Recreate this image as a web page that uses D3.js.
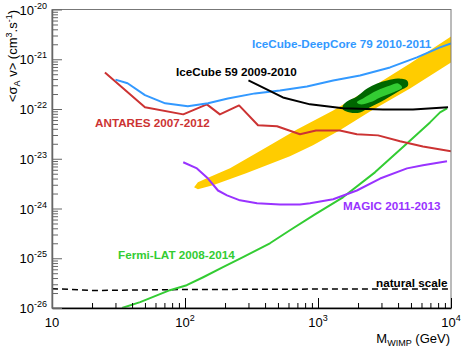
<!DOCTYPE html>
<html>
<head>
<meta charset="utf-8">
<script src="https://cdn.jsdelivr.net/npm/d3@7"></script>
<style>
  body { margin: 0; background: #fff; }
  text { font-family: "Liberation Sans", Arial, sans-serif; }
</style>
</head>
<body>
<svg width="465" height="355"></svg>
<script>
// data (mass in GeV, <sigma v> in cm^3/s)
const deepcoreMass  = [30, 37, 50, 71, 105, 149, 210, 336, 518, 826, 1300, 2070, 3480, 5550, 8270, 10000];
const deepcoreSigma = [3.9e-22, 3.3e-22, 1.9e-22, 1.3e-22, 1.13e-22, 1.3e-22, 1.63e-22, 2.06e-22, 2.36e-22, 2.84e-22, 3.75e-22, 4.7e-22, 6.85e-22, 1.09e-21, 1.73e-21, 2.08e-21];

const antaresMass  = [25, 50, 97, 146, 183, 255, 354, 492, 732, 966, 1460, 1960, 2830, 4140, 6150, 10000];
const antaresSigma = [5.4e-22, 1.08e-22, 7.8e-23, 1.24e-22, 7.8e-23, 1.18e-22, 4.7e-23, 4.5e-23, 3.1e-23, 3.7e-23, 3.7e-23, 3.1e-23, 2.95e-23, 2.24e-23, 1.77e-23, 1.41e-23];

const ic59Mass  = [300, 545, 871, 1540, 3080, 5180, 9500];
const ic59Sigma = [3.75e-22, 1.71e-22, 1.24e-22, 1.03e-22, 9.8e-23, 9.8e-23, 1.08e-22];

const magicMass  = [97, 123, 149, 177, 207, 259, 348, 518, 732, 871, 1300, 1960, 2930, 4670, 6150, 9330];
const magicSigma = [8.5e-24, 6.4e-24, 4.0e-24, 2.3e-24, 1.84e-24, 1.46e-24, 1.27e-24, 1.21e-24, 1.21e-24, 1.27e-24, 1.53e-24, 2.3e-24, 4.0e-24, 6.4e-24, 7.4e-24, 8.9e-24];

const fermiMass  = [33.6, 46, 77, 103, 137, 193, 273, 435, 615, 949, 1540, 2680, 4750, 6950, 8270, 9330];
const fermiSigma = [1e-26, 1.31e-26, 2.28e-26, 2.87e-26, 4.15e-26, 6.6e-26, 1.05e-25, 2.0e-25, 3.65e-25, 7.65e-25, 1.68e-24, 5.33e-24, 2.13e-23, 5.38e-23, 8.55e-23, 1.03e-22];

const naturalMass  = [10, 20, 100, 1000, 10000];
const naturalSigma = [2.45e-26, 2.25e-26, 2.35e-26, 2.4e-26, 2.4e-26];

// yellow band: upper edge left->right, lower edge right->left
const bandMass  = [117, 125, 146, 218, 386, 695, 1300, 2460, 4920, 10000, 10000, 4920, 2460, 1460, 917, 615, 288, 162, 125];
const bandSigma = [2.67e-24, 3.36e-24, 4.04e-24, 6.41e-24, 1.55e-23, 3.89e-23, 9.37e-23, 2.59e-22, 8.24e-22, 2.87e-21, 8.63e-22, 2.59e-22, 8.95e-23, 3.72e-23, 1.86e-23, 1.12e-23, 5.09e-24, 2.92e-24, 2.43e-24];

// green contours
const outerMass  = [1540, 1650, 1960, 2340, 2780, 3300, 4000, 4670, 4750, 4140, 3480, 2930, 2460, 2070, 1740, 1540];
const outerSigma = [1.18e-22, 1.42e-22, 1.79e-22, 2.59e-22, 3.27e-22, 3.75e-22, 4.12e-22, 3.75e-22, 2.98e-22, 2.36e-22, 1.79e-22, 1.36e-22, 1.08e-22, 8.55e-23, 8.55e-23, 9.8e-23];
const innerMass  = [1960, 2180, 2780, 3480, 4000, 4290, 3660, 2930, 2460, 2070];
const innerSigma = [1.36e-22, 1.63e-22, 2.36e-22, 2.98e-22, 3.27e-22, 2.71e-22, 2.15e-22, 1.71e-22, 1.36e-22, 1.24e-22];

const xMajor = [10, 100, 1000, 10000];
const yMajor = [1e-26, 1e-25, 1e-24, 1e-23, 1e-22, 1e-21, 1e-20];

const svg = d3.select("svg");
const x = d3.scaleLog().domain([10, 1e4]).range([52, 451]);
const y = d3.scaleLog().domain([1e-26, 1e-20]).range([308, 9.5]);

const zip = (a, b) => a.map((v, i) => [v, b[i]]);
const line = d3.line().x(d => x(d[0])).y(d => y(d[1]));
const closed = d3.line().x(d => x(d[0])).y(d => y(d[1])).curve(d3.curveLinearClosed);
const smooth = d3.line().x(d => x(d[0])).y(d => y(d[1])).curve(d3.curveCatmullRomClosed);

svg.append("clipPath").attr("id", "clip")
  .append("rect").attr("x", 52).attr("y", 9.5).attr("width", 399).attr("height", 298.5);

const plot = svg.append("g").attr("clip-path", "url(#clip)");

plot.append("path").datum(zip(bandMass, bandSigma)).attr("fill", "#ffcc00").attr("d", closed);
plot.append("path").datum(zip(outerMass, outerSigma)).attr("fill", "#006600").attr("d", smooth);
plot.append("path").datum(zip(innerMass, innerSigma)).attr("fill", "#33cc33").attr("d", smooth);

const curves = [
  [naturalMass, naturalSigma, "#000", "6,4", 1.5],
  [fermiMass, fermiSigma, "#33cc33", null, 2],
  [magicMass, magicSigma, "#9933ff", null, 2],
  [antaresMass, antaresSigma, "#cc3333", null, 2],
  [deepcoreMass, deepcoreSigma, "#3399ff", null, 2],
  [ic59Mass, ic59Sigma, "#000", null, 2]
];
curves.forEach(c => {
  plot.append("path").datum(zip(c[0], c[1]))
    .attr("fill", "none").attr("stroke", c[2]).attr("stroke-width", c[4])
    .attr("stroke-dasharray", c[3]).attr("stroke-linejoin", "round").attr("d", line);
});

// frame
svg.append("rect").attr("x", 52).attr("y", 9.5).attr("width", 399).attr("height", 298.5)
  .attr("fill", "none").attr("stroke", "#777").attr("stroke-width", 1);

// axes
const isMajor = d => Math.abs(Math.log10(d) - Math.round(Math.log10(d))) < 1e-6;
const xt = [], yt = [];
for (let e = 1; e < 4; e++) for (let k = 1; k < 10; k++) xt.push(k * Math.pow(10, e));
xt.push(1e4);
for (let e = -26; e < -20; e++) for (let k = 1; k < 10; k++) yt.push(k * Math.pow(10, e));
yt.push(1e-20);

const gx = svg.append("g").attr("transform", "translate(0,308)")
  .call(d3.axisBottom(x).tickValues(xt).tickFormat("").tickSizeOuter(0));
gx.select(".domain").attr("stroke", "#000").attr("stroke-width", 1.5);
gx.selectAll(".tick line").attr("y2", d => isMajor(d) ? -10 : -5).attr("stroke-width", 1);

const gy = svg.append("g").attr("transform", "translate(52,0)")
  .call(d3.axisLeft(y).tickValues(yt).tickFormat("").tickSizeOuter(0));
gy.select(".domain").attr("stroke", "#666").attr("stroke-width", 1.5);
gy.selectAll(".tick line").attr("x2", d => isMajor(d) ? 10 : 6).attr("stroke", "#666");

// tick labels with superscripts
xMajor.forEach(v => {
  const e = Math.round(Math.log10(v));
  const t = svg.append("text").attr("x", x(v)).attr("y", 327).attr("text-anchor", "middle")
    .attr("font-size", 13);
  t.append("tspan").text("10");
  if (e !== 1) t.append("tspan").attr("dy", -6).attr("font-size", 9).text(e);
});
yMajor.forEach(v => {
  const e = Math.round(Math.log10(v));
  const t = svg.append("text").attr("x", 47).attr("y", y(v) + 5).attr("text-anchor", "end")
    .attr("font-size", 13);
  t.append("tspan").text("10");
  t.append("tspan").attr("dy", -6).attr("font-size", 9).text(e);
});

// axis titles
const xl = svg.append("text").attr("x", 450).attr("y", 343).attr("text-anchor", "end").attr("font-size", 13);
xl.append("tspan").text("M");
xl.append("tspan").attr("dy", 3).attr("font-size", 9).text("WIMP");
xl.append("tspan").attr("dy", -3).text(" (GeV)");

const yl = svg.append("text").attr("transform", "translate(17,10) rotate(-90)")
  .attr("text-anchor", "end").attr("font-size", 13);
yl.append("tspan").text("<σ");
yl.append("tspan").attr("dy", 3).attr("font-size", 9).text("A");
yl.append("tspan").attr("dy", -3).text(" v> (cm");
yl.append("tspan").attr("dy", -5).attr("font-size", 9).text("3");
yl.append("tspan").attr("dy", 5).text(".s");
yl.append("tspan").attr("dy", -5).attr("font-size", 9).text("-1");
yl.append("tspan").attr("dy", 5).text(")");

// curve labels
const labels = [
  ["IceCube-DeepCore 79 2010-2011", 252, 48, "#3399ff"],
  ["IceCube 59 2009-2010", 176, 76, "#000"],
  ["ANTARES 2007-2012", 95, 127, "#cc3333"],
  ["MAGIC 2011-2013", 343, 210, "#9933ff"],
  ["Fermi-LAT 2008-2014", 118, 259, "#33cc33"],
  ["natural scale", 376, 287, "#000"]
];
labels.forEach(l => {
  svg.append("text").attr("x", l[1]).attr("y", l[2]).attr("fill", l[3])
    .attr("font-size", 11.7).attr("font-weight", "bold").text(l[0]);
});
</script>
</body>
</html>
